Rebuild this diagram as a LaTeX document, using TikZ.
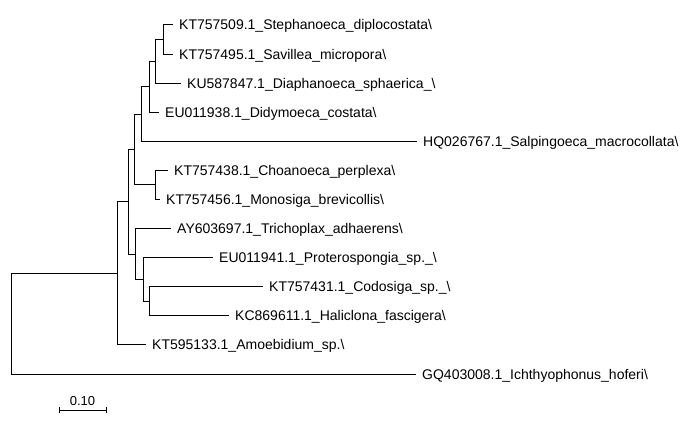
\documentclass[tikz,border=0pt]{standalone}
\usepackage{fontspec}
\setmainfont{Liberation Sans}
\tikzset{
    x=1pt, y=-1pt, % one unit is one pixel, y runs down the page
    branch/.style={line width=1pt}, % the edges of the tree
    taxon/.style={anchor=base west, inner sep=0pt, font=\fontsize{14}{16}\selectfont}, % names at the leaves
    scalelabel/.style={anchor=base, inner sep=0pt, font=\fontsize{13}{15}\selectfont},
}

\begin{document}
\begin{tikzpicture}
    \useasboundingbox (0,0) rectangle (691,433);
    % leaf tips
    \coordinate (t1) at (173,25);
    \coordinate (t2) at (173,54.1);
    \coordinate (t3) at (181,83.2);
    \coordinate (t4) at (159,112.2);
    \coordinate (t5) at (417,141.3);
    \coordinate (t6) at (168,170.4);
    \coordinate (t7) at (160,199.5);
    \coordinate (t8) at (171,228.6);
    \coordinate (t9) at (213,257.6);
    \coordinate (t10) at (263,286.7);
    \coordinate (t11) at (229,315.8);
    \coordinate (t12) at (146,344.9);
    \coordinate (t13) at (416,374);
    % inner nodes
    \coordinate (n12) at (163,39.6);
    \coordinate (n123) at (155,61.4);
    \coordinate (n1to4) at (149,86.8);
    \coordinate (n1to5) at (141,114.1);
    \coordinate (n67) at (155,185);
    \coordinate (n1to7) at (134,149.5);
    \coordinate (n1011) at (149,301.3);
    \coordinate (n9to11) at (143,279.4);
    \coordinate (n8to11) at (135,254);
    \coordinate (n1to11) at (128,201.8);
    \coordinate (n1to12) at (117,273.3);
    \coordinate (root) at (11,323.7);
    % leaf names
    \node[taxon] (l1) at ([shift={(6,5)}]t1) {KT757509.1\_Stephanoeca\_diplocostata\textbackslash};
    \node[taxon] (l2) at ([shift={(6,5)}]t2) {KT757495.1\_Savillea\_micropora\textbackslash};
    \node[taxon] (l3) at ([shift={(6,5)}]t3) {KU587847.1\_Diaphanoeca\_sphaerica\_\textbackslash};
    \node[taxon] (l4) at ([shift={(6,5)}]t4) {EU011938.1\_Didymoeca\_costata\textbackslash};
    \node[taxon] (l5) at ([shift={(6,5)}]t5) {HQ026767.1\_Salpingoeca\_macrocollata\textbackslash};
    \node[taxon] (l6) at ([shift={(6,5)}]t6) {KT757438.1\_Choanoeca\_perplexa\textbackslash};
    \node[taxon] (l7) at ([shift={(6,5)}]t7) {KT757456.1\_Monosiga\_brevicollis\textbackslash};
    \node[taxon] (l8) at ([shift={(6,5)}]t8) {AY603697.1\_Trichoplax\_adhaerens\textbackslash};
    \node[taxon] (l9) at ([shift={(6,5)}]t9) {EU011941.1\_Proterospongia\_sp.\_\textbackslash};
    \node[taxon] (l10) at ([shift={(6,5)}]t10) {KT757431.1\_Codosiga\_sp.\_\textbackslash};
    \node[taxon] (l11) at ([shift={(6,5)}]t11) {KC869611.1\_Haliclona\_fascigera\textbackslash};
    \node[taxon] (l12) at ([shift={(6,5)}]t12) {KT595133.1\_Amoebidium\_sp.\textbackslash};
    \node[taxon] (l13) at ([shift={(6,5)}]t13) {GQ403008.1\_Ichthyophonus\_hoferi\textbackslash};
    % branches
    \draw[branch]
    (n12) |- (t1)
    (n12) |- (t2)
    (n123) |- (n12)
    (n123) |- (t3)
    (n1to4) |- (n123)
    (n1to4) |- (t4)
    (n1to5) |- (n1to4)
    (n1to5) |- (t5)
    (n67) |- (t6)
    (n67) |- (t7)
    (n1to7) |- (n1to5)
    (n1to7) |- (n67)
    (n1011) |- (t10)
    (n1011) |- (t11)
    (n9to11) |- (t9)
    (n9to11) |- (n1011)
    (n8to11) |- (t8)
    (n8to11) |- (n9to11)
    (n1to11) |- (n1to7)
    (n1to11) |- (n8to11)
    (n1to12) |- (n1to11)
    (n1to12) |- (t12)
    (root) |- (n1to12)
    (root) |- (t13);
    % scale bar
    \coordinate (sb1) at (59,410);
    \coordinate (sb2) at (106,410);
    \draw[branch] (sb1) -- (sb2);
    \draw[branch] ([shift={(0,-3)}]sb1) -- ([shift={(0,3)}]sb1);
    \draw[branch] ([shift={(0,-3)}]sb2) -- ([shift={(0,3)}]sb2);
    \node[scalelabel] (sbl) at (82.5,405) {0.10};
\end{tikzpicture}
\end{document}
